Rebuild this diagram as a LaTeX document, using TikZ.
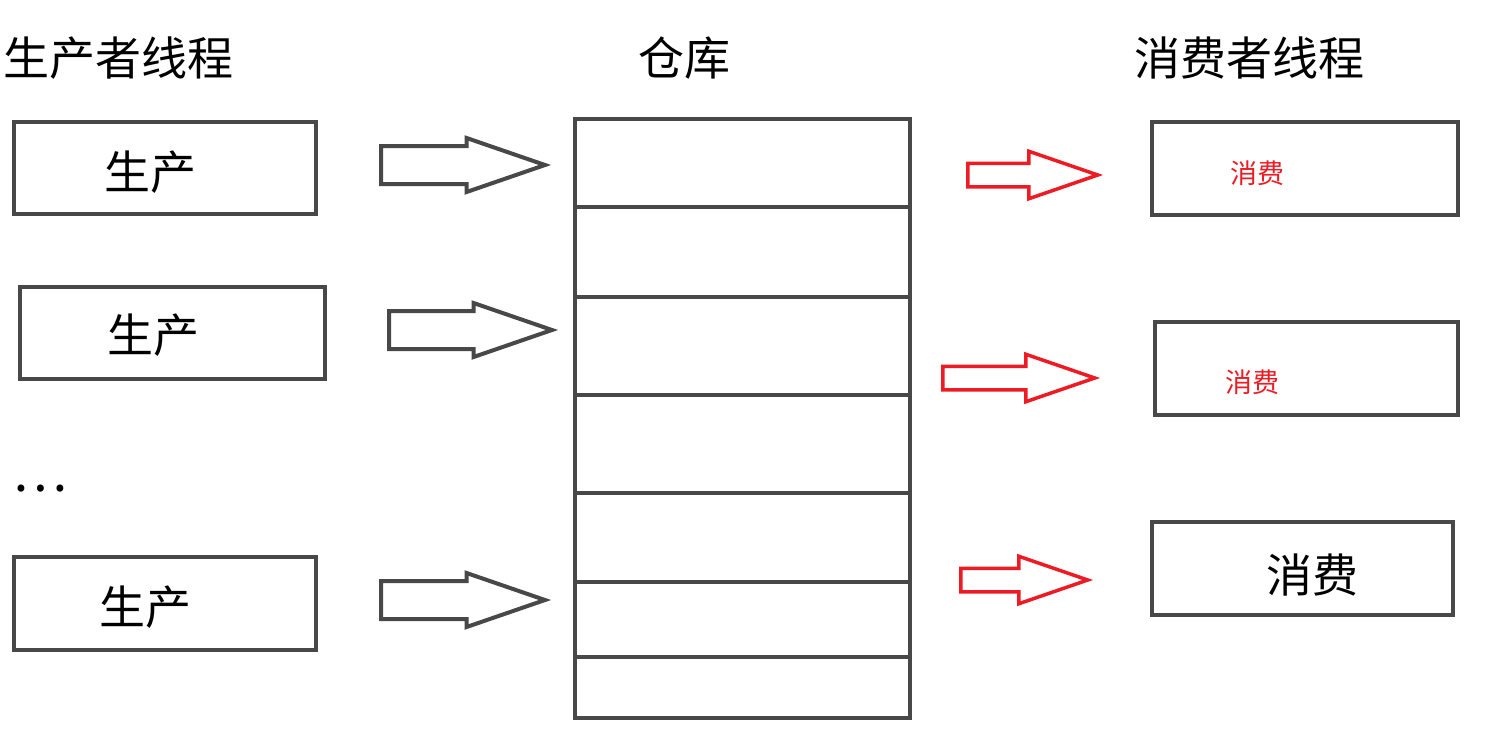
\documentclass[tikz,border=0pt]{standalone}
\usepackage{fontspec}
\setmainfont{Noto Sans CJK SC}
\usetikzlibrary{shapes.arrows}
\definecolor{pencil}{RGB}{72,72,72}
\definecolor{arrowred}{RGB}{237,28,36}

\begin{document}
\begin{tikzpicture}[x=1pt,y=1pt,yscale=-1,xscale=1,
    box/.style={draw=pencil, line width=4, fill=white, minimum width=302, minimum height=92, inner sep=0},
    title/.style={inner sep=0, font=\fontsize{46}{46}\selectfont},
    boxtext/.style={inner sep=0, font=\fontsize{46}{46}\selectfont},
    redtext/.style={inner sep=0, text=arrowred, font=\fontsize{27}{27}\selectfont},
    garrow/.style={single arrow, draw=pencil, line width=4, fill=white, inner xsep=0, inner ysep=17,
        single arrow head extend=8, single arrow tip angle=38, anchor=tail},
    rarrow/.style={single arrow, draw=arrowred, line width=3.5, fill=white, inner xsep=0, inner ysep=10,
        single arrow head extend=12, single arrow tip angle=38, anchor=tail}
  ]
    \useasboundingbox (0,0) rectangle (1499,737);

    % Text Node
    \node [title, anchor=west] (ptitle) at (3,58) {生产者线程};
    % Text Node
    \node [title] (stitle) at (684,58) {仓库};
    % Text Node
    \node [title] (ctitle) at (1249,58) {消费者线程};

    %Shape: producer boxes
    \node [box] (p1) at (165,167.5) {};
    \node [box, minimum width=305] (p2) at (172.5,332.5) {};
    \node [box, minimum width=302, minimum height=93] (p3) at (165,603.5) {};
    \node [boxtext] (p1t) at (150,172) {生产};
    \node [boxtext] (p2t) at (153,335) {生产};
    \node [boxtext] (p3t) at (145,607) {生产};
    % Text Node
    \node [inner sep=0, font=\fontsize{52}{52}\selectfont] (more) at (40,489) {\ldots};

    %Shape: grey arrows
    \node [garrow, minimum height=164] (ga1) at (379,165) {};
    \node [garrow, minimum height=163] (ga2) at (387,330) {};
    \node [garrow, minimum height=164] (ga3) at (379,600) {};

    %Shape: store
    \draw [draw=pencil, line width=4] (575,119) rectangle (910,718);
    \foreach \y in {207,297,395,493,582,657}
      \draw [draw=pencil, line width=3.5] (575,\y) -- (910,\y);

    %Shape: red arrows
    \node [rarrow, minimum height=130] (ra1) at (966,175) {};
    \node [rarrow, minimum height=152] (ra2) at (941,378) {};
    \node [rarrow, minimum height=127] (ra3) at (959,580) {};

    %Shape: consumer boxes
    \node [box, minimum width=306, minimum height=93] (c1) at (1305,168.5) {};
    \node [box, minimum width=303, minimum height=93] (c2) at (1306.5,368.5) {};
    \node [box, minimum width=301, minimum height=93] (c3) at (1302.5,568.5) {};
    \node [redtext] (c1t) at (1257,173) {消费};
    \node [redtext] (c2t) at (1252,382) {消费};
    \node [boxtext] (c3t) at (1312,575) {消费};
\end{tikzpicture}
\end{document}
